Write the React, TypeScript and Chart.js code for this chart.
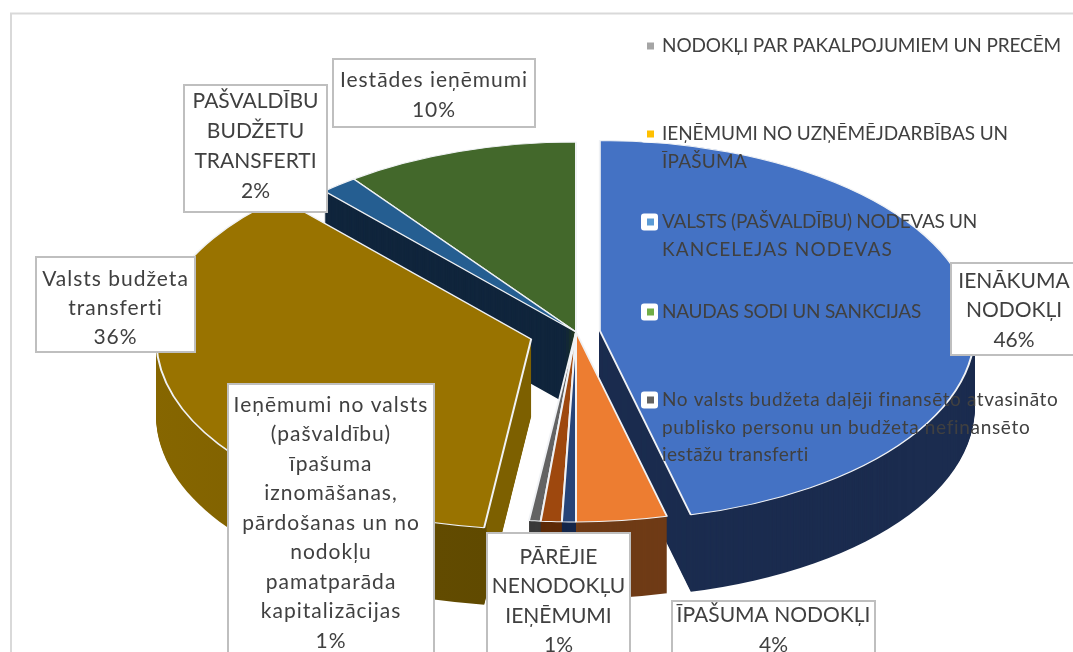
import React, { useEffect, useRef } from "react";
import { Chart, registerables } from "chart.js";

Chart.register(...registerables);

const categories = [
  "IENĀKUMA NODOKĻI",
  "ĪPAŠUMA NODOKĻI",
  "NODOKĻI PAR PAKALPOJUMIEM UN PRECĒM",
  "IEŅĒMUMI NO UZŅĒMĒJDARBĪBAS UN ĪPAŠUMA",
  "VALSTS (PAŠVALDĪBU) NODEVAS UN KANCELEJAS NODEVAS",
  "NAUDAS SODI UN SANKCIJAS",
  "PĀRĒJIE NENODOKĻU IEŅĒMUMI",
  "Ieņēmumi no valsts (pašvaldību) īpašuma iznomāšanas, pārdošanas un no nodokļu pamatparāda kapitalizācijas",
  "No valsts budžeta daļēji finansēto atvasināto publisko personu un budžeta nefinansēto iestāžu transferti",
  "Valsts budžeta transferti",
  "PAŠVALDĪBU BUDŽETU TRANSFERTI",
  "Iestādes ieņēmumi",
];
const shares = [46.1, 3.9, 0, 0, 0, 0, 0.6, 0.9, 0.5, 36.3, 1.6, 10.1];
const topColors = ["#4472C4", "#ED7D31", "#A5A5A5", "#FFC000", "#5B9BD5", "#70AD47", "#264478", "#9E480E", "#636363", "#997300", "#255E91", "#43682B"];
const wallColors = ["#1B2C4F", "#6F3B16", "#555555", "#7F6000", "#2E5A80", "#38591F", "#14264A", "#5C2A07", "#3A3A3A", "#7D6000", "#10253C", "#2A4019"];

const labelLines: Record<number, string[]> = {
  0: ["IENĀKUMA", "NODOKĻI"],
  1: ["ĪPAŠUMA NODOKĻI"],
  6: ["PĀRĒJIE", "NENODOKĻU", "IEŅĒMUMI"],
  7: ["Ieņēmumi no valsts", "(pašvaldību)", "īpašuma", "iznomāšanas,", "pārdošanas un no", "nodokļu", "pamatparāda", "kapitalizācijas"],
  9: ["Valsts budžeta", "transferti"],
  10: ["PAŠVALDĪBU", "BUDŽETU", "TRANSFERTI"],
  11: ["Iestādes ieņēmumi"],
};
const legendEntries: { index: number; lines: string[] }[] = [
  { index: 2, lines: ["NODOKĻI PAR PAKALPOJUMIEM UN PRECĒM"] },
  { index: 3, lines: ["IEŅĒMUMI NO UZŅĒMĒJDARBĪBAS UN", "ĪPAŠUMA"] },
  { index: 4, lines: ["VALSTS (PAŠVALDĪBU) NODEVAS UN", "KANCELEJAS NODEVAS"] },
  { index: 5, lines: ["NAUDAS SODI UN SANKCIJAS"] },
  { index: 8, lines: ["No valsts budžeta daļēji finansēto atvasināto", "publisko personu un budžeta nefinansēto", "iestāžu transferti"] },
];

// Layout only
const labelBoxes: Record<number, { x: number; y: number; w: number; h: number; first: number; step: number; track: number }> = {
  0: { x: 951, y: 263, w: 130, h: 92, first: 281, step: 29.5, track: 0 },
  1: { x: 672, y: 601, w: 203, h: 70, first: 615, step: 30, track: 0 },
  6: { x: 487, y: 533, w: 143, h: 140, first: 557, step: 29.5, track: 0 },
  7: { x: 228, y: 384, w: 206, h: 290, first: 405, step: 29.5, track: 1 },
  9: { x: 36, y: 257, w: 159, h: 95, first: 279, step: 29, track: 1 },
  10: { x: 184, y: 85, w: 143, h: 127, first: 101, step: 30, track: 0 },
  11: { x: 333, y: 59, w: 202, h: 68, first: 80, step: 30, track: 1 },
};
const legendTops = [46, 134, 222, 312, 400];
const legendStep = 27.5;
const legendWidths = [[399], [346, 85], [315, 231], [259], [396, 368, 147]];
const paintOrder = [11, 10, 0, 9, 8, 7, 6, 1];
const explode: Record<number, number> = { 0: 24, 9: 47 };
const CX = 576;
const CY = 332;
const RADIUS = 375;
const SQUASH = 190 / 375;
const DEPTH = 77;
const FONT = "Lato, 'Open Sans', sans-serif";
const TEXT = "#404040";

function goldWall(ctx: CanvasRenderingContext2D) {
  // Shading of the outer wall, lit from the left; the cut face keeps the flat tone.
  const shift = 45;
  const g = ctx.createLinearGradient(153 + shift, 0, 540 + shift, 0);
  const at = (x: number) => (x - 153) / (540 - 153);
  g.addColorStop(0, "#866600");
  g.addColorStop(at(400), "#7A5C00");
  g.addColorStop(at(436), "#624B00");
  g.addColorStop(at(486), "#604A00");
  g.addColorStop(at(487), "#7D6000");
  g.addColorStop(1, "#7D6000");
  return g;
}

const pie3d = {
  id: "pie3d",
  beforeDraw(chart: any) {
    const { ctx, width, height } = chart;
    ctx.save();
    ctx.fillStyle = "#fff";
    ctx.fillRect(0, 0, width, height);
    ctx.strokeStyle = "#D9D9D9";
    ctx.lineWidth = 2;
    ctx.strokeRect(11, 13.5, width + 20, height + 20);
    ctx.restore();
  },
  beforeDatasetsDraw(chart: any) {
    const { ctx } = chart;
    const arcs = chart.getDatasetMeta(0).data;
    const place = (i: number, dy: number) => {
      const a = arcs[i];
      const mid = (a.startAngle + a.endAngle) / 2;
      const off = explode[i] || 0;
      ctx.translate(0, dy);
      ctx.translate(CX, CY);
      ctx.scale(1, SQUASH);
      ctx.translate(-CX, -CY);
      ctx.translate(Math.cos(mid) * off, Math.sin(mid) * off);
    };
    for (const i of paintOrder) {
      const a = arcs[i];
      const original = a.options;
      for (let d = DEPTH; d >= 1; d--) {
        ctx.save();
        place(i, d);
        a.options = { ...original, borderWidth: 0, backgroundColor: i === 9 ? goldWall(ctx) : wallColors[i] };
        a.draw(ctx);
        ctx.restore();
      }
      a.options = original;
      ctx.save();
      place(i, 0);
      a.draw(ctx);
      ctx.restore();
    }
  },
  beforeDatasetDraw() {
    return false;
  },
  afterDraw(chart: any) {
    const { ctx } = chart;
    const total = shares.reduce((s, v) => s + v, 0);
    ctx.save();
    ctx.textBaseline = "middle";
    ctx.fillStyle = TEXT;

    // legend: each line is tracked out to the width it has in the reference
    ctx.font = `19px ${FONT}`;
    ctx.textAlign = "left";
    legendEntries.forEach((entry, n) => {
      const y = legendTops[n];
      ctx.fillStyle = "#fff";
      ctx.beginPath();
      ctx.roundRect(641, y - 8.5, 17, 17, 3);
      ctx.fill();
      ctx.fillStyle = topColors[entry.index];
      ctx.fillRect(647, y - 3.5, 7, 7);
      ctx.fillStyle = TEXT;
      entry.lines.forEach((line, k) => {
        (ctx as any).letterSpacing = "0px";
        const natural = ctx.measureText(line).width;
        (ctx as any).letterSpacing = `${(legendWidths[n][k] - natural) / line.length}px`;
        ctx.fillText(line, 662, y + k * legendStep);
      });
    });

    // data labels
    ctx.font = `21px ${FONT}`;
    ctx.textAlign = "center";
    Object.keys(labelBoxes).forEach((key) => {
      const i = Number(key);
      const b = labelBoxes[i];
      ctx.fillStyle = "#fff";
      ctx.fillRect(b.x, b.y, b.w, b.h);
      ctx.strokeStyle = "#BFBFBF";
      ctx.lineWidth = 2;
      ctx.strokeRect(b.x, b.y, b.w, b.h);
      ctx.fillStyle = TEXT;
      (ctx as any).letterSpacing = `${b.track}px`;
      const lines = [...labelLines[i], `${Math.round((shares[i] / total) * 100)}%`];
      const mx = i === 0 ? 1014 : b.x + b.w / 2;
      lines.forEach((line, k) => ctx.fillText(line, mx, b.first + k * b.step));
    });
    ctx.restore();
  },
};

export default function App() {
  const ref = useRef<HTMLCanvasElement>(null);
  useEffect(() => {
    document.body.style.margin = "0";
    document.body.style.overflow = "hidden";
    const chart = new Chart(ref.current as HTMLCanvasElement, {
      type: "pie",
      data: {
        labels: categories,
        datasets: [{ data: shares, backgroundColor: topColors, borderColor: "#F0F2F5", borderWidth: 2, borderAlign: "center" }],
      },
      options: {
        animation: false,
        responsive: false,
        events: [],
        radius: RADIUS,
        layout: { padding: { left: 2 * CX - 1073, top: 2 * CY - 652 } },
        plugins: { legend: { display: false }, tooltip: { enabled: false } },
      },
      plugins: [pie3d],
    } as any);
    return () => chart.destroy();
  }, []);
  return <canvas ref={ref} width={1073} height={652} style={{ display: "block", width: 1073, height: 652 }} />;
}
